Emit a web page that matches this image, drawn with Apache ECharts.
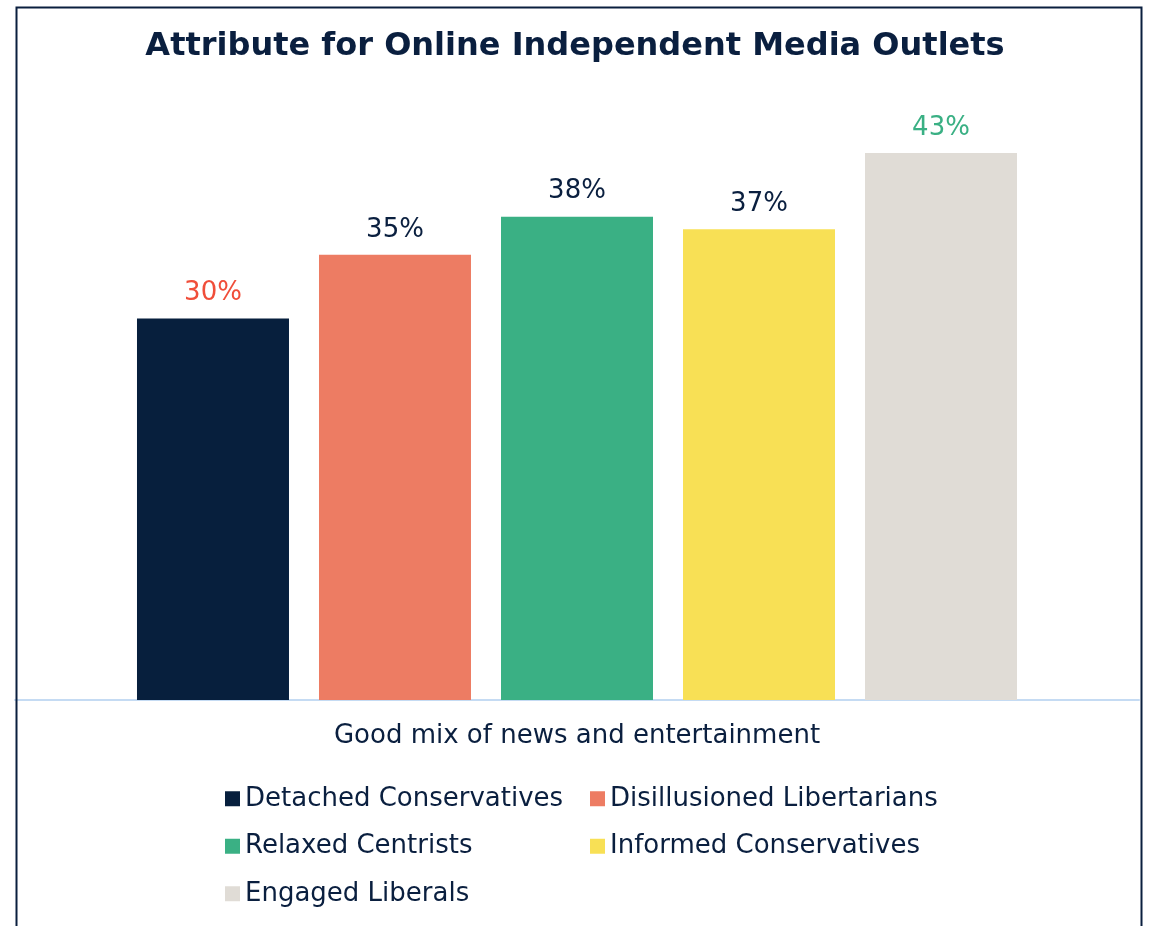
<!DOCTYPE html>
<html>
<head>
<meta charset="utf-8">
<title>Attribute for Online Independent Media Outlets</title>
<script src="https://cdn.jsdelivr.net/npm/echarts@6/dist/echarts.min.js"></script>
<style>
  html, body { margin: 0; padding: 0; background: #ffffff; }
  #chart { width: 1150px; height: 926px; }
</style>
</head>
<body>
<div id="chart"></div>
<script>
// Share of each segment naming the attribute, in percent
const categories = ['Good mix of news and entertainment'];
const segments = [
  'Detached Conservatives',
  'Disillusioned Libertarians',
  'Relaxed Centrists',
  'Informed Conservatives',
  'Engaged Liberals'
];
const values = [30, 35, 38, 37, 43];
const barColors = ['#071f3d', '#ed7c63', '#3ab084', '#f8e055', '#e0dcd6'];
const labelColors = ['#f04e3a', '#0a1f3f', '#0a1f3f', '#0a1f3f', '#3ab084'];

const NAVY = '#0a1f3f';
const FONT = '"DejaVu Sans", Verdana, sans-serif';

const chart = echarts.init(document.getElementById('chart'), null, { renderer: 'canvas' });

const series = segments.map((name, i) => ({
  name: name,
  type: 'bar',
  data: [values[i]],
  barWidth: 152,
  barGap: '19.74%',
  itemStyle: { color: barColors[i] },
  label: {
    show: true,
    position: 'top',
    distance: 12,
    formatter: '{c}%',
    color: labelColors[i],
    fontFamily: FONT,
    fontSize: 26
  }
}));

chart.setOption({
  animation: false,
  backgroundColor: '#ffffff',
  title: {
    text: 'Attribute for Online Independent Media Outlets',
    left: 'center',
    top: 26,
    textStyle: {
      color: NAVY,
      fontFamily: FONT,
      fontWeight: 'bold',
      fontSize: 32
    }
  },
  graphic: [{
    type: 'rect',
    left: 14,
    top: 5,
    shape: { width: 1125, height: 940 },
    style: { fill: 'none', stroke: NAVY, lineWidth: 2 },
    silent: true,
    z: 100
  }],
  grid: { left: 15, right: 11, top: 64, bottom: 226 },
  xAxis: {
    type: 'category',
    data: categories,
    axisLine: { lineStyle: { color: '#c5dbf3', width: 2 } },
    axisTick: { show: false },
    axisLabel: {
      color: NAVY,
      fontFamily: FONT,
      fontSize: 26,
      margin: 23
    }
  },
  yAxis: {
    type: 'value',
    min: 0,
    max: 50,
    show: false,
    splitLine: { show: false }
  },
  legend: {
    left: 220,
    top: 775,
    width: 760,
    orient: 'horizontal',
    itemWidth: 15,
    itemHeight: 15,
    itemGap: 10,
    icon: 'rect',
    data: segments,
    textStyle: {
      color: NAVY,
      fontFamily: FONT,
      fontSize: 26,
      width: 335,
      lineHeight: 37.5
    }
  },
  series: series
});
</script>
</body>
</html>
